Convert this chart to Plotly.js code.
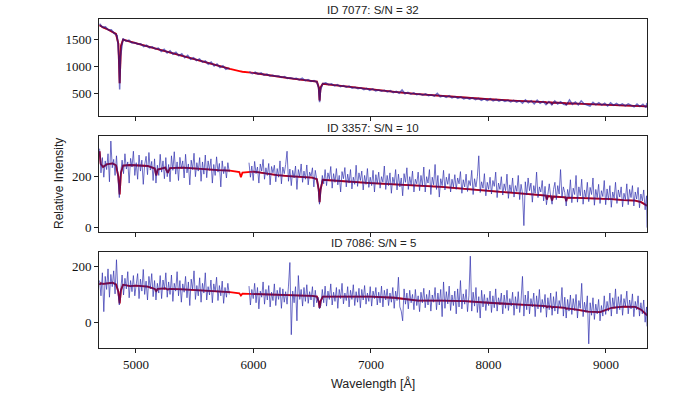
<!DOCTYPE html>
<html>
<head>
<meta charset="utf-8">
<script src="https://cdn.plot.ly/plotly-3.0.1.min.js"></script>
<style>
  html, body { margin: 0; padding: 0; background: #fff; }
  #graph { width: 700px; height: 394px; }
</style>
</head>
<body>
<div id="graph"></div>
<script>
// wavelength grids: coarse one for ID 7077, fine one for the two noisy spectra
var waveCoarseA = [4690,4715,4740,4765,4790,4815,4840,4855,4861,4868,
  4890,4915,4940,4965,4990,5015,5040,5065,5090,5115,
  5140,5165,5190,5215,5240,5265,5290,5315,5340,5365,
  5390,5415,5440,5465,5490,5515,5540,5565,5590,5615,
  5640,5665,5690,5715,5740,5765,5790];
var waveCoarseB = [5965,5990,6015,6040,6065,6090,6115,6140,6165,6190,
  6215,6240,6265,6290,6315,6340,6365,6390,6415,6440,
  6465,6490,6515,6540,6555,6563,6571,6590,6615,6640,
  6665,6690,6715,6740,6765,6790,6815,6840,6865,6890,
  6915,6940,6965,6990,7015,7040,7065,7090,7115,7140,
  7165,7190,7215,7240,7265,7290,7315,7340,7365,7390,
  7415,7440,7465,7490,7515,7540,7565,7590,7615,7640,
  7665,7690,7715,7740,7765,7790,7815,7840,7865,7890,
  7915,7940,7965,7990,8015,8040,8065,8090,8115,8140,
  8165,8190,8215,8240,8265,8290,8315,8340,8365,8390,
  8415,8440,8465,8490,8515,8540,8565,8590,8615,8640,
  8665,8690,8715,8740,8765,8790,8815,8840,8865,8890,
  8915,8940,8965,8990,9015,9040,9065,9090,9115,9140,
  9165,9190,9215,9240,9265,9290,9315,9340,9350];

var waveA = [4690,4702,4714,4726,4738,4750,4762,4774,4786,4798,
  4810,4822,4834,4846,4858,4870,4882,4894,4906,4918,
  4930,4942,4954,4966,4978,4990,5002,5014,5026,5038,
  5050,5062,5074,5086,5098,5110,5122,5134,5146,5158,
  5170,5182,5194,5206,5218,5230,5242,5254,5266,5278,
  5290,5302,5314,5326,5338,5350,5362,5374,5386,5398,
  5410,5422,5434,5446,5458,5470,5482,5494,5506,5518,
  5530,5542,5554,5566,5578,5590,5602,5614,5626,5638,
  5650,5662,5674,5686,5698,5710,5722,5734,5746,5758,
  5770,5782,5794];
var waveB = [5962,5974,5986,5998,6010,6022,6034,6046,6058,6070,
  6082,6094,6106,6118,6130,6142,6154,6166,6178,6190,
  6202,6214,6226,6238,6250,6262,6274,6286,6298,6310,
  6322,6334,6346,6358,6370,6382,6394,6406,6418,6430,
  6442,6454,6466,6478,6490,6502,6514,6526,6538,6550,
  6562,6574,6586,6598,6610,6622,6634,6646,6658,6670,
  6682,6694,6706,6718,6730,6742,6754,6766,6778,6790,
  6802,6814,6826,6838,6850,6862,6874,6886,6898,6910,
  6922,6934,6946,6958,6970,6982,6994,7006,7018,7030,
  7042,7054,7066,7078,7090,7102,7114,7126,7138,7150,
  7162,7174,7186,7198,7210,7222,7234,7246,7258,7270,
  7282,7294,7306,7318,7330,7342,7354,7366,7378,7390,
  7402,7414,7426,7438,7450,7462,7474,7486,7498,7510,
  7522,7534,7546,7558,7570,7582,7594,7606,7618,7630,
  7642,7654,7666,7678,7690,7702,7714,7726,7738,7750,
  7762,7774,7786,7798,7810,7822,7834,7846,7858,7870,
  7882,7894,7906,7918,7930,7942,7954,7966,7978,7990,
  8002,8014,8026,8038,8050,8062,8074,8086,8098,8110,
  8122,8134,8146,8158,8170,8182,8194,8206,8218,8230,
  8242,8254,8266,8278,8290,8302,8314,8326,8338,8350,
  8362,8374,8386,8398,8410,8422,8434,8446,8458,8470,
  8482,8494,8506,8518,8530,8542,8554,8566,8578,8590,
  8602,8614,8626,8638,8650,8662,8674,8686,8698,8710,
  8722,8734,8746,8758,8770,8782,8794,8806,8818,8830,
  8842,8854,8866,8878,8890,8902,8914,8926,8938,8950,
  8962,8974,8986,8998,9010,9022,9034,9046,9058,9070,
  9082,9094,9106,9118,9130,9142,9154,9166,9178,9190,
  9202,9214,9226,9238,9250,9262,9274,9286,9298,9310,
  9322,9334,9346,9350];

var waveModel = [4690,4700,4720,4750,4800,4830,4850,4861,4872,4890,
  4950,5000,5100,5160,5172,5185,5250,5270,5290,5400,
  5500,5600,5700,5800,5880,5893,5906,6000,6100,6200,
  6300,6400,6500,6540,6555,6563,6571,6590,6650,6800,
  7000,7200,7400,7600,7800,8000,8200,8400,8490,8498,
  8506,8534,8542,8550,8654,8662,8670,8750,8850,8950,
  9050,9150,9250,9300,9350];

// ID 7077
var fluxTopA = [1790,1725,1730,1672,1676,1610,1570,1150,575,1180,
  1515,1466,1484,1432,1440,1410,1420,1368,1392,1344,
  1362,1322,1340,1278,1316,1248,1290,1226,1262,1196,
  1232,1160,1206,1132,1160,1108,1140,1080,1104,1040,
  1080,1008,1046,978,1012,946,970];
var fluxTopB = [902,868,894,856,880,840,860,826,838,818,
  824,796,812,780,792,772,780,752,782,738,
  758,724,740,706,600,340,565,684,698,662,
  678,640,664,628,648,618,636,600,616,590,
  604,572,596,560,585,550,566,544,560,528,
  555,515,540,505,566,496,520,488,512,478,
  494,468,492,460,475,452,504,440,456,430,
  462,420,442,408,438,400,422,394,420,386,
  412,375,402,370,406,364,390,358,382,352,
  376,345,372,340,366,320,382,330,368,308,
  376,320,355,295,352,290,362,308,348,302,
  288,382,300,345,290,365,308,290,268,336,
  290,332,286,320,270,328,282,316,280,310,
  272,308,274,252,306,260,302,240,325];
var modelTop = [1760,1745,1720,1695,1645,1600,1420,690,1380,1495,
  1460,1430,1370,1335,1325,1320,1288,1276,1266,1200,
  1135,1078,1015,955,915,908,902,880,845,812,
  785,758,735,720,620,370,610,680,665,625,
  574,530,490,455,422,394,370,350,340,320,
  338,336,315,334,322,302,320,314,306,302,
  296,290,280,272,262];

// ID 3357
var fluxMidA = [310,215,275,198,262,228,290,180,340,235,
  268,205,282,190,118,215,265,212,290,230,
  258,175,272,238,300,205,255,190,285,222,
  265,170,248,280,208,295,226,260,185,270,
  175,245,205,288,218,262,192,275,200,248,
  180,282,225,298,210,258,185,276,232,262,
  195,288,215,250,168,265,228,292,200,255,
  222,275,182,258,210,285,196,262,225,270,
  175,248,205,278,218,252,160,262,212,240,
  195,255,218];
var fluxMidB = [255,198,242,185,260,212,238,175,250,222,
  268,190,235,205,252,168,240,215,245,180,
  232,198,262,172,238,212,248,300,182,230,
  165,225,195,242,150,228,200,250,178,222,
  190,246,168,218,202,235,160,225,192,165,
  92,150,205,172,228,165,215,190,240,155,
  212,178,232,168,205,140,220,192,236,160,
  210,175,228,152,198,170,245,162,215,185,
  222,148,205,170,232,158,198,165,225,140,
  208,172,218,155,200,178,242,150,205,165,
  215,135,198,172,228,148,210,160,195,125,
  212,178,235,150,200,168,222,140,190,172,
  218,145,205,165,238,140,200,175,228,130,
  198,168,248,150,205,120,192,165,225,148,
  198,170,212,140,190,160,208,150,195,172,
  220,135,188,160,210,142,185,165,225,130,
  192,160,200,282,138,180,155,212,125,178,
  150,198,132,185,162,218,118,175,150,200,
  128,172,145,210,115,168,140,195,120,165,
  142,205,110,170,135,8,180,128,195,145,
  175,100,165,135,218,118,160,140,185,105,
  162,90,140,172,120,92,150,178,110,165,
  132,228,118,160,138,85,150,120,188,98,
  155,130,205,100,160,125,190,92,148,120,
  178,102,158,130,195,88,150,118,170,95,
  145,122,185,90,152,108,165,80,140,115,
  178,95,148,120,160,82,135,110,172,90,
  150,118,165,85,140,112,158,78,132,105,
  148,70,125,0];
var modelMid = [300,250,238,248,252,245,200,130,215,244,
  246,245,242,232,205,228,236,215,234,236,
  232,228,226,224,218,198,216,220,212,206,
  202,200,196,190,150,100,150,188,186,180,
  175,170,165,160,152,145,138,130,126,110,
  124,123,106,122,119,104,118,117,116,114,
  112,108,106,100,86];

// ID 7086
var fluxBotA = [150,95,178,38,165,118,192,90,172,128,
  185,102,225,110,62,105,170,98,158,120,
  182,88,150,110,168,95,142,175,85,155,
  112,190,100,148,80,165,120,175,92,150,
  80,140,105,168,85,152,118,178,90,145,
  100,170,75,140,112,182,95,150,72,138,
  108,165,88,145,60,155,118,185,82,132,
  95,160,72,140,105,178,80,128,98,152,
  70,138,110,162,78,132,95,148,68,125,
  90,140,100];
var fluxBotB = [130,62,118,85,140,70,125,48,112,90,
  145,65,118,80,132,55,108,78,138,60,
  115,82,125,50,120,72,110,65,130,215,
  -45,112,70,128,5,168,82,118,58,125,
  75,135,68,110,80,128,55,115,70,90,
  48,60,118,70,130,58,112,82,138,62,
  108,75,125,50,118,85,140,66,105,78,
  128,55,115,82,135,60,110,72,122,52,
  118,80,132,65,105,75,128,58,112,85,
  125,62,108,70,130,55,115,80,120,60,
  105,72,125,50,112,78,162,55,40,5,
  120,65,105,48,115,70,100,45,118,60,
  95,38,108,70,122,52,100,62,115,40,
  98,72,125,45,105,62,118,20,145,50,
  110,66,130,42,98,60,112,30,120,55,
  150,48,102,65,118,38,95,238,40,108,
  58,125,35,92,15,115,55,100,42,88,
  60,112,35,95,52,120,40,88,62,105,
  30,98,50,115,42,85,58,108,25,92,
  48,110,35,80,165,22,98,45,112,30,
  85,55,105,20,95,48,118,35,82,50,
  100,18,88,45,105,25,92,40,110,30,
  78,52,125,22,90,15,82,40,98,28,
  85,42,100,15,78,50,140,20,72,35,
  95,-78,70,25,88,10,65,30,82,5,
  60,22,95,28,75,40,105,22,88,50,
  120,30,92,45,100,25,85,58,112,30,
  80,48,102,20,75,45,95,22,70,30,
  80,0,55,-15];
var modelBot = [135,140,138,140,142,136,110,68,115,135,
  130,132,128,120,112,120,122,118,120,118,
  116,112,110,108,104,96,103,102,100,98,
  97,96,95,92,75,52,75,92,92,93,
  92,88,78,78,76,70,66,62,58,54,
  57,56,52,55,52,48,50,45,38,36,
  52,56,55,45,25];

var titles = ['ID 7077: S/N = 32', 'ID 3357: S/N = 10', 'ID 7086: S/N = 5'];

var panels = [
  {xa: waveCoarseA, xb: waveCoarseB, a: fluxTopA, b: fluxTopB, m: modelTop, w: 1.5},
  {xa: waveA, xb: waveB, a: fluxMidA, b: fluxMidB, m: modelMid, w: 1},
  {xa: waveA, xb: waveB, a: fluxBotA, b: fluxBotB, m: modelBot, w: 1}
];

var data = [];
panels.forEach(function (p, i) {
  var ax = i === 0 ? '' : String(i + 1);
  // model
  data.push({
    x: waveModel, y: p.m, xaxis: 'x' + ax, yaxis: 'y' + ax,
    mode: 'lines', line: {color: '#ff0000', width: 1.8},
    hoverinfo: 'skip'
  });
  // observed spectrum, with the chip gap
  data.push({
    x: p.xa.concat([5880], p.xb),
    y: p.a.concat([null], p.b),
    xaxis: 'x' + ax, yaxis: 'y' + ax,
    mode: 'lines', line: {color: 'rgba(50,50,175,0.7)', width: p.w},
    connectgaps: false
  });
  // model seen through the data (darker where covered)
  var mx = [], my = [];
  waveModel.forEach(function (w, k) {
    if (w > 5800 && w < 5962) { mx.push(5880); my.push(null); return; }
    mx.push(w); my.push(p.m[k]);
  });
  data.push({
    x: mx, y: my, xaxis: 'x' + ax, yaxis: 'y' + ax,
    mode: 'lines', line: {color: 'rgba(60,0,80,0.5)', width: 1.8},
    connectgaps: false, hoverinfo: 'skip'
  });
});

var tickFont = {family: 'Liberation Serif, serif', size: 13, color: '#111'};

function xax(show) {
  return {
    domain: [0.1414, 0.9243], range: [4685, 9350],
    tickvals: [5000, 6000, 7000, 8000, 9000],
    ticks: 'outside', ticklen: 4, tickcolor: '#222',
    showticklabels: show, tickfont: tickFont,
    showline: true, mirror: true, linecolor: '#222', linewidth: 1,
    showgrid: false, zeroline: false
  };
}
function yax(dom, rng, vals) {
  return {
    domain: dom, range: rng, tickvals: vals,
    ticks: 'outside', ticklen: 4, tickcolor: '#222',
    tickfont: tickFont,
    showline: true, mirror: true, linecolor: '#222', linewidth: 1,
    showgrid: false, zeroline: false
  };
}

var layout = {
  width: 700, height: 394,
  margin: {l: 0, r: 0, t: 0, b: 0},
  showlegend: false,
  paper_bgcolor: '#fff', plot_bgcolor: '#fff',
  xaxis: Object.assign(xax(false), {anchor: 'y'}),
  yaxis: Object.assign(yax([0.7056, 0.9518], [85, 1876], [500, 1000, 1500]), {anchor: 'x'}),
  xaxis2: Object.assign(xax(false), {anchor: 'y2'}),
  yaxis2: Object.assign(yax([0.4119, 0.6556], [-16, 361], [0, 200]), {anchor: 'x2'}),
  xaxis3: Object.assign(xax(true), {anchor: 'y3'}),
  yaxis3: Object.assign(yax([0.1160, 0.3612], [-94, 254], [0, 200]), {anchor: 'x3'}),
  annotations: [
    {text: titles[0], x: 0.533, y: 0.9746},
    {text: titles[1], x: 0.533, y: 0.6751},
    {text: titles[2], x: 0.533, y: 0.3832},
    {text: 'Wavelength [Å]', x: 0.533, y: 0.0279, font: {family: 'Liberation Sans, sans-serif', size: 12.5, color: '#222'}},
    {text: 'Relative Intensity', x: 0.0843, y: 0.533, textangle: -90, font: {family: 'Liberation Sans, sans-serif', size: 12, color: '#222'}}
  ].map(function (a) {
    return Object.assign({
      xref: 'paper', yref: 'paper', showarrow: false,
      xanchor: 'center', yanchor: 'middle',
      font: {family: 'Liberation Sans, sans-serif', size: 11.5, color: '#222'}
    }, a);
  })
};

Plotly.newPlot('graph', data, layout, {displayModeBar: false, staticPlot: true});
</script>
</body>
</html>
